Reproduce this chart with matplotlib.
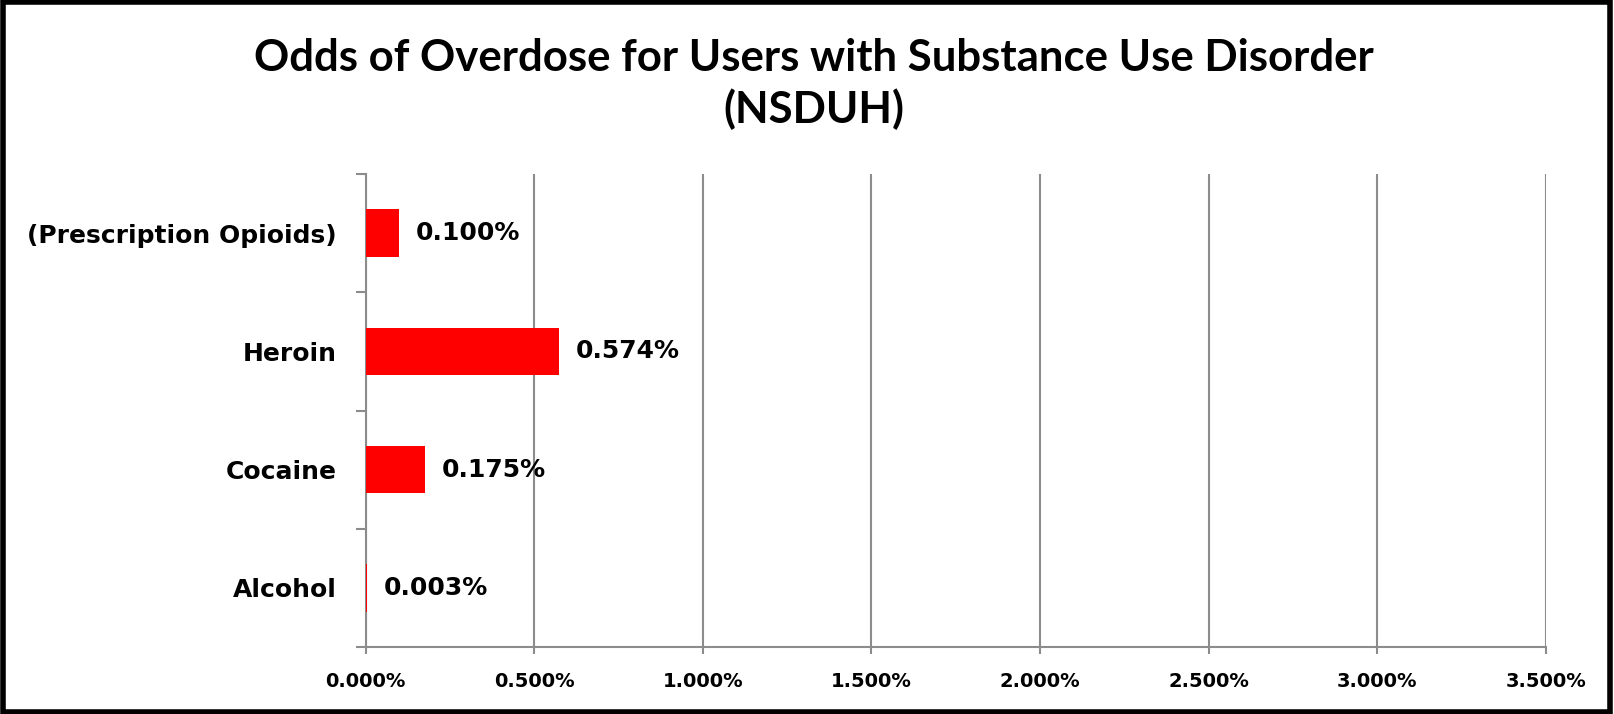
import matplotlib
matplotlib.use('Agg')
import matplotlib.pyplot as plt
from matplotlib.patches import Rectangle
from matplotlib.ticker import FuncFormatter, FixedLocator
import numpy as np

# data (percent)
substances = ['Alcohol', 'Cocaine', 'Heroin', '(Prescription Opioids)']
odds_pct = [0.003, 0.175, 0.574, 0.100]
x_ticks = [0.0, 0.5, 1.0, 1.5, 2.0, 2.5, 3.0, 3.5]

title = 'Odds of Overdose for Users with Substance Use Disorder\n(NSDUH)'

fig = plt.figure(figsize=(16.15, 7.14), dpi=100)
ax = fig.add_axes([0.2264, 0.0938, 0.7307, 0.6625])

ypos = np.arange(len(substances))
ax.barh(ypos, odds_pct, height=0.4, color='#ff0000', zorder=3)

for y, v in zip(ypos, odds_pct):
    ax.annotate(f'{v:.3f}%', (v, y), xytext=(12, 0), textcoords='offset points',
                va='center', ha='left', fontsize=18, fontweight='heavy',
                family='DejaVu Sans', zorder=4)

ax.set_xlim(0, 3.5)
ax.set_ylim(-0.5, len(substances) - 0.5)
ax.set_xticks(x_ticks)
ax.xaxis.set_major_formatter(FuncFormatter(lambda v, p: f'{v:.3f}%'))
ax.set_yticks(ypos)
ax.set_yticklabels(substances)
ax.yaxis.set_minor_locator(FixedLocator(np.arange(-0.5, len(substances), 1.0)))

grid_col = '#8c8c8c'
ax.grid(axis='x', color=grid_col, linewidth=1.5, zorder=0)
for s in ['top', 'right']:
    ax.spines[s].set_visible(False)
for s in ['left', 'bottom']:
    ax.spines[s].set_color(grid_col)
    ax.spines[s].set_linewidth(1.5)

ax.tick_params(axis='y', which='major', length=0, pad=21)
ax.tick_params(axis='y', which='minor', length=7, width=1.5, color=grid_col)
ax.tick_params(axis='x', length=5, width=1.5, color=grid_col, pad=13)
for lab in ax.get_yticklabels():
    lab.set_fontsize(18)
    lab.set_fontweight('heavy')
for lab in ax.get_xticklabels():
    lab.set_fontsize(14)
    lab.set_fontweight('bold')

fig.text(0.504, 0.882, title, ha='center', va='center', fontsize=31.5,
         fontweight='bold', family='Lato', linespacing=1.3)

# black frame round the whole chart
fig.patches.append(Rectangle((0.002, 0.003), 0.995, 0.994, transform=fig.transFigure,
                             fill=False, edgecolor='black', linewidth=4))

fig.savefig('out.png', dpi=100)
